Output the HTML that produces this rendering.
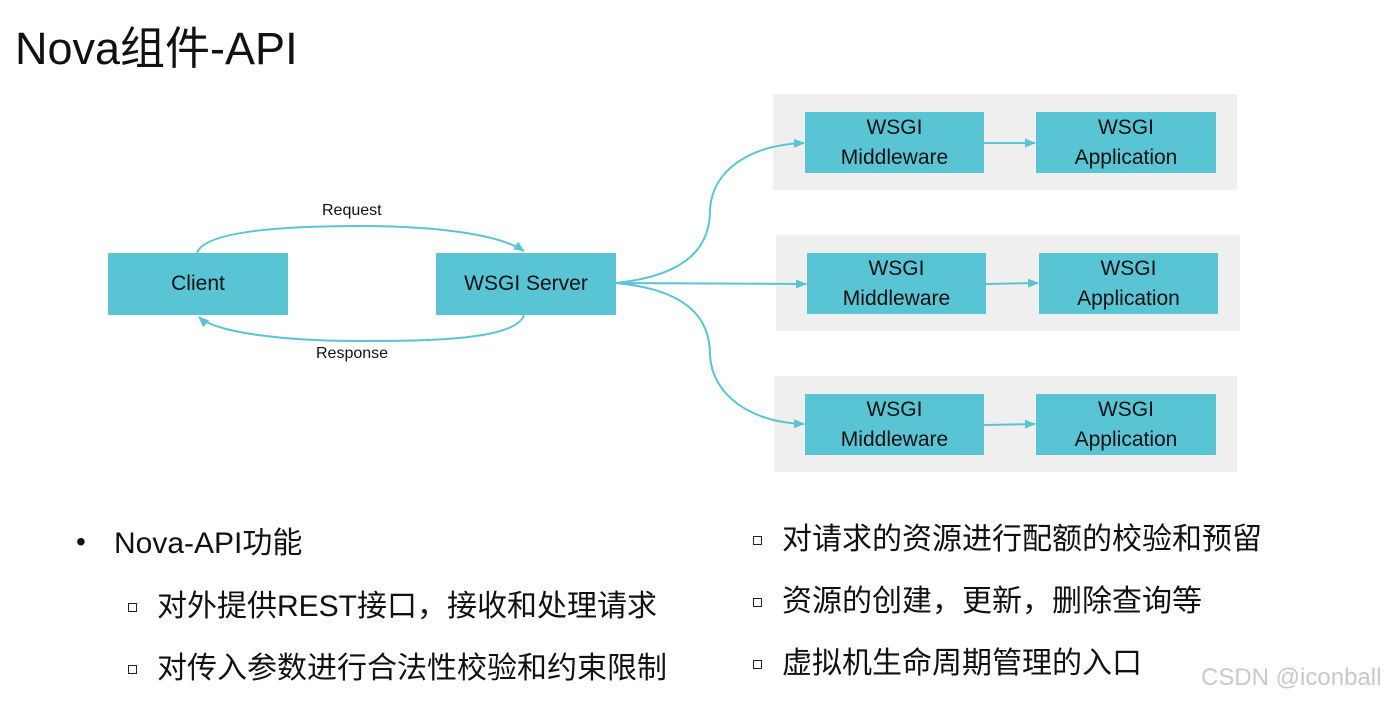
<!DOCTYPE html>
<html><head><meta charset="utf-8"><style>
body{margin:0;width:1395px;height:702px;background:#fff;position:relative;overflow:hidden;font-family:"Liberation Sans","Noto Sans CJK SC",sans-serif;color:#111}
.a{position:absolute}
.panel{position:absolute;background:#efefef}
.box{position:absolute;background:#59c4d4;display:flex;align-items:center;justify-content:center;text-align:center;font-size:21px;line-height:30px;color:#111}
.t{position:absolute;font-size:30px;white-space:nowrap;line-height:34px}
.sq{position:absolute;width:7px;height:7px;border:1.5px solid #222}
</style></head><body>
<div class="a" style="left:15px;top:12px;font-size:45px;white-space:nowrap">Nova组件-API</div>

<div class="panel" style="left:773px;top:94px;width:464px;height:96px"></div>
<div class="panel" style="left:776px;top:235px;width:464px;height:96px"></div>
<div class="panel" style="left:774px;top:376px;width:463px;height:96px"></div>

<div class="box" style="left:108px;top:253px;width:180px;height:62px">Client</div>
<div class="box" style="left:436px;top:253px;width:180px;height:62px">WSGI Server</div>

<div class="box" style="left:805px;top:112px;width:179px;height:61px">WSGI<br>Middleware</div>
<div class="box" style="left:1036px;top:112px;width:180px;height:61px">WSGI<br>Application</div>
<div class="box" style="left:807px;top:253px;width:179px;height:61px">WSGI<br>Middleware</div>
<div class="box" style="left:1039px;top:253px;width:179px;height:61px">WSGI<br>Application</div>
<div class="box" style="left:805px;top:394px;width:179px;height:61px">WSGI<br>Middleware</div>
<div class="box" style="left:1036px;top:394px;width:180px;height:61px">WSGI<br>Application</div>

<svg class="a" style="left:0;top:0" width="1395" height="702">
<defs><marker id="m" markerWidth="11" markerHeight="11" refX="10" refY="5.5" orient="auto" markerUnits="userSpaceOnUse"><path d="M0,1 L11,5.5 L0,10 z" fill="#59c4d4"/></marker></defs>
<g fill="none" stroke="#59c4d4" stroke-width="2">
<path d="M197,253 C205,230 290,226 360,226 C440,226 500,235 524,251" marker-end="url(#m)"/>
<path d="M524,315 C516,340 430,341 360,341 C280,341 215,332 199,317" marker-end="url(#m)"/>
<path d="M616,283 C690,275 710,245 710,210 C712,170 750,145 804,143" marker-end="url(#m)"/>
<path d="M616,283 L806,284" marker-end="url(#m)"/>
<path d="M616,283 C690,290 710,320 710,355 C712,395 750,422 804,424" marker-end="url(#m)"/>
<path d="M984,143 L1035,143" marker-end="url(#m)"/>
<path d="M986,284 L1038,283" marker-end="url(#m)"/>
<path d="M984,425 L1035,424" marker-end="url(#m)"/>
</g>
</svg>
<div class="a" style="left:322px;top:202px;font-size:16px">Request</div>
<div class="a" style="left:316px;top:345px;font-size:16px">Response</div>

<div class="a" style="left:76px;top:526px;font-size:28px">•</div>
<div class="t" style="left:114px;top:527px">Nova-API功能</div>
<div class="sq" style="left:128px;top:603px"></div>
<div class="t" style="left:157px;top:590px">对外提供REST接口，接收和处理请求</div>
<div class="sq" style="left:128px;top:665px"></div>
<div class="t" style="left:157px;top:652px">对传入参数进行合法性校验和约束限制</div>

<div class="sq" style="left:753px;top:536px"></div>
<div class="t" style="left:782px;top:523px">对请求的资源进行配额的校验和预留</div>
<div class="sq" style="left:753px;top:598px"></div>
<div class="t" style="left:782px;top:585px">资源的创建，更新，删除查询等</div>
<div class="sq" style="left:753px;top:660px"></div>
<div class="t" style="left:782px;top:647px">虚拟机生命周期管理的入口</div>

<div class="a" style="left:1201px;top:664px;font-size:24px;color:#c8c8c8;white-space:nowrap">CSDN @iconball</div>
</body></html>
